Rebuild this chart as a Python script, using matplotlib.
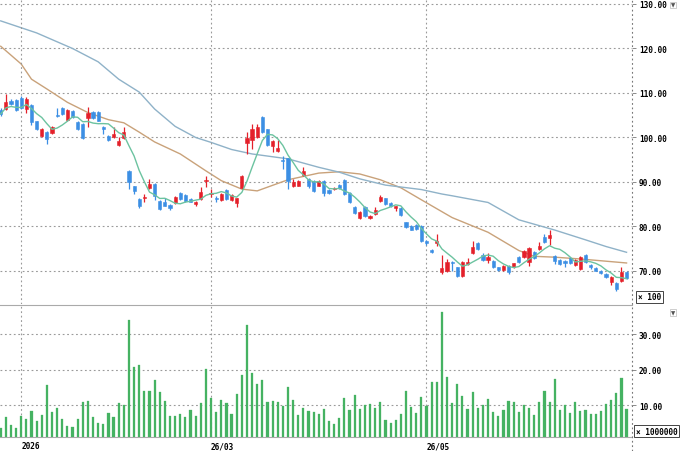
import numpy as np
import pandas as pd
import matplotlib
matplotlib.use("Agg")
import matplotlib.pyplot as plt
from matplotlib.lines import Line2D

# ---------------------------------------------------------------------------
# Data (price x100 yen, volume x1,000,000 shares), one entry per trading day
# ---------------------------------------------------------------------------
opens = [106.2, 106.4, 108.3, 108.4, 108.9, 106.4, 107.3, 103.6, 100.3, 101.3,
         101.0, 105.0, 106.6, 103.9, 106.0, 103.4, 103.0, 104.3, 105.7, 105.7,
         102.4, 100.4, 100.0, 98.2, 99.8, 92.5, 89.0, 86.2, 86.4, 88.6,
         89.6, 85.7, 85.4, 84.8, 85.3, 87.5, 87.1, 86.2, 85.1, 86.2,
         90.2, 87.3, 86.4, 86.0, 88.2, 86.0, 85.2, 88.6, 98.8, 99.5,
         100.0, 104.5, 101.8, 98.0, 97.0, 94.9, 95.3, 89.0, 89.2, 91.6,
         90.7, 90.3, 89.2, 90.3, 88.3, 88.5, 89.3, 90.5, 87.5, 84.3,
         81.8, 84.3, 81.8, 82.8, 85.8, 86.3, 85.3, 84.1, 84.1, 80.9,
         80.2, 80.3, 80.2, 76.8, 74.8, 76.4, 69.7, 70.1, 72.1, 70.8,
         68.9, 71.6, 74.0, 76.4, 73.6, 72.5, 72.2, 70.8, 70.3, 71.1,
         70.8, 73.1, 73.1, 72.0, 74.3, 74.9, 77.6, 77.5, 73.3, 72.5,
         72.3, 72.9, 71.3, 70.4, 73.7, 71.3, 70.6, 70.1, 69.3, 67.5,
         67.3, 67.8, 69.8]
highs = [106.6, 109.8, 108.6, 108.7, 109.3, 109.0, 107.5, 103.8, 102.2, 101.5,
         102.6, 106.6, 106.8, 106.4, 106.2, 103.6, 103.2, 106.8, 105.9, 105.9,
         102.5, 100.6, 102.3, 100.0, 102.3, 92.7, 89.2, 86.4, 87.3, 90.7,
         89.8, 85.9, 86.3, 85.0, 86.8, 87.7, 87.3, 86.4, 85.8, 88.8,
         91.4, 88.4, 86.8, 87.6, 88.4, 87.3, 86.5, 91.6, 101.2, 103.0,
         103.0, 104.9, 102.0, 99.4, 99.5, 95.9, 95.5, 90.7, 90.5, 93.3,
         90.9, 90.5, 90.5, 90.5, 88.5, 88.9, 89.6, 90.7, 87.7, 84.5,
         83.4, 84.5, 82.5, 84.3, 87.0, 86.5, 85.5, 84.6, 84.3, 81.1,
         80.4, 80.5, 80.4, 77.0, 75.0, 78.2, 73.5, 72.8, 72.2, 71.0,
         72.2, 73.0, 76.7, 76.6, 74.0, 74.1, 72.4, 71.0, 71.4, 71.3,
         71.9, 73.3, 74.8, 75.4, 74.5, 76.6, 78.2, 79.3, 73.5, 72.7,
         72.4, 73.1, 72.7, 73.4, 73.9, 71.5, 70.8, 70.3, 69.5, 68.9,
         67.5, 70.8, 70.0]
lows = [104.9, 106.2, 107.2, 105.9, 106.3, 105.6, 102.8, 101.6, 100.1, 98.5,
        100.8, 104.5, 105.1, 103.7, 104.3, 101.7, 99.6, 102.3, 104.2, 103.6,
        100.8, 99.3, 99.8, 98.0, 99.6, 88.4, 87.3, 84.2, 85.6, 88.4,
        86.0, 83.7, 84.5, 83.8, 85.1, 86.0, 85.6, 85.4, 84.6, 86.0,
        88.8, 86.6, 85.4, 85.8, 86.0, 85.8, 84.3, 88.4, 96.3, 97.5,
        99.8, 101.0, 98.1, 96.7, 96.8, 92.9, 88.4, 88.8, 89.0, 91.4,
        88.7, 87.8, 89.0, 86.9, 87.4, 88.3, 88.4, 87.1, 85.2, 82.9,
        81.6, 82.1, 81.6, 82.6, 85.6, 84.9, 84.3, 83.4, 82.3, 79.6,
        79.1, 79.2, 76.6, 75.9, 74.0, 75.6, 69.4, 69.7, 70.0, 68.7,
        68.7, 71.4, 73.8, 74.7, 72.3, 71.9, 70.6, 70.1, 70.1, 69.3,
        70.6, 71.8, 72.9, 71.2, 72.7, 74.7, 76.4, 75.8, 71.5, 71.4,
        70.9, 71.6, 71.1, 70.2, 71.9, 70.5, 69.9, 69.4, 68.4, 66.9,
        65.6, 67.6, 68.2]
closes = [105.3, 108.0, 107.6, 106.2, 106.6, 108.7, 103.4, 101.9, 101.9, 99.6,
          102.4, 104.8, 105.3, 106.2, 104.5, 101.9, 99.8, 105.6, 104.4, 103.8,
          102.0, 99.5, 100.8, 99.3, 101.2, 89.9, 88.0, 84.5, 86.7, 89.6,
          86.8, 83.9, 84.7, 84.1, 86.6, 86.2, 85.8, 85.6, 85.4, 87.7,
          90.5, 87.6, 86.1, 87.3, 86.2, 87.1, 86.3, 91.4, 99.8, 101.9,
          102.3, 101.2, 98.3, 99.2, 97.6, 94.8, 90.3, 90.1, 90.3, 92.5,
          89.2, 88.0, 90.3, 87.6, 87.6, 88.7, 88.6, 87.3, 85.4, 83.1,
          83.2, 82.3, 82.3, 83.6, 86.6, 85.1, 84.5, 84.5, 82.5, 79.8,
          79.3, 79.4, 76.8, 76.4, 74.2, 76.8, 70.6, 72.1, 71.8, 68.9,
          72.0, 72.1, 75.3, 74.9, 72.5, 73.1, 70.8, 70.3, 71.2, 69.8,
          71.7, 72.0, 74.6, 75.1, 72.9, 75.7, 76.6, 78.1, 72.3, 71.6,
          71.9, 71.8, 72.5, 73.1, 72.1, 70.8, 70.1, 69.6, 68.6, 68.6,
          66.0, 69.7, 68.4]
volumes = [3.4, 6.7, 4.5, 3.6, 7.0, 6.2, 8.3, 5.6, 7.2, 15.6,
           8.1, 9.2, 6.2, 4.2, 3.9, 6.0, 10.9, 11.2, 6.5, 5.0,
           4.6, 7.7, 6.7, 10.7, 10.0, 34.0, 20.7, 21.4, 13.9, 13.9,
           17.1, 13.6, 11.1, 7.0, 7.0, 7.6, 6.5, 8.5, 6.9, 10.5,
           20.1, 11.9, 8.1, 11.4, 10.5, 7.4, 13.2, 18.5, 32.6, 18.9,
           15.9, 17.0, 10.8, 11.0, 10.8, 9.8, 15.1, 11.5, 7.2, 9.2,
           8.2, 7.9, 7.6, 9.0, 5.4, 4.6, 6.3, 11.9, 8.6, 12.9,
           9.0, 10.0, 10.4, 9.2, 10.8, 5.9, 4.8, 5.9, 7.4, 13.9,
           9.4, 7.7, 12.3, 9.8, 16.6, 16.6, 36.1, 18.0, 10.5, 15.9,
           12.5, 9.0, 13.8, 9.2, 9.9, 11.7, 8.0, 7.0, 8.6, 11.1,
           10.8, 8.0, 10.0, 9.3, 7.2, 10.8, 13.9, 10.9, 17.2, 8.5,
           10.0, 7.7, 10.9, 8.4, 8.6, 7.4, 7.6, 8.2, 10.2, 11.3,
           13.4, 17.5, 9.0]

# moving averages (day index, value)
ma25_idx = [0, 4, 6, 9, 13, 17, 21, 24, 27, 30, 35, 40, 43, 47, 50, 56, 62,
            66, 70, 74, 78, 82, 88, 95, 101, 104, 108, 113, 117, 122]
ma25_val = [120.5, 116.5, 113.1, 110.9, 107.9, 105.6, 104.0, 103.3, 101.2,
            99.0, 96.3, 92.5, 90.3, 88.4, 88.0, 90.5, 92.0, 92.3, 91.8, 90.5,
            88.7, 86.0, 82.0, 78.7, 74.6, 73.3, 73.1, 72.7, 72.3, 71.8]
ma75_idx = [0, 7, 14, 19, 23, 27, 30, 34, 38, 41, 45, 49, 56, 62, 66, 70, 75,
            82, 86, 88, 95, 101, 108, 114, 118, 122]
ma75_val = [126.2, 123.5, 120.0, 117.0, 113.1, 110.2, 106.4, 102.5, 100.0,
            98.9, 97.3, 96.3, 95.2, 93.3, 92.2, 90.7, 89.3, 88.3, 87.3, 86.9,
            85.4, 81.5, 79.2, 77.0, 75.5, 74.2]

date_pos = [4, 41, 83]
date_labels = ["2026", "26/03", "26/05"]
price_ticks = [70, 80, 90, 100, 110, 120, 130]
vol_ticks = [10, 20, 30]

# ---------------------------------------------------------------------------
UP = "#e4202a"
DOWN = "#3c8fe4"
VOL = "#45b262"
GRID = "#9a9a9a"
DOT = (0, (1.6, 2.4))
LABEL_FONT = dict(family="DejaVu Sans Mono", weight="bold", size=5.6)

o = np.array(opens)
h = np.array(highs)
l = np.array(lows)
c = np.array(closes)
x = np.arange(len(c))
ma5 = pd.Series(c).rolling(5, min_periods=1).mean()

fig = plt.figure(figsize=(6.8, 4.52), dpi=100)
ax = fig.add_axes([0.0, 0.3252, 0.9294, 0.6748])
axv = fig.add_axes([0.0, 0.0303, 0.9294, 0.2927])

# --- price panel -------------------------------------------------------------
up = c >= o
colors = np.where(up, UP, DOWN)
ax.vlines(x, l, h, colors=colors, linewidth=0.9, zorder=3)
body_low = np.minimum(o, c)
body_h = np.maximum(np.abs(c - o), 0.2)
ax.bar(x, body_h, bottom=body_low, width=0.62, color=colors,
       edgecolor=colors, linewidth=0.4, zorder=4)

ax.plot(x, ma5, color="#6cc3a0", linewidth=1.0, zorder=5)
ax.plot(ma25_idx, ma25_val, color="#c9a27a", linewidth=1.0, zorder=2)
ax.plot(ma75_idx, ma75_val, color="#8fb2c8", linewidth=1.0, zorder=2)

ax.set_xlim(-0.14, 123.06)
ax.set_ylim(62.58, 131.12)
ax.set_yticks(price_ticks)
ax.set_yticklabels([f"{v:.2f}" for v in price_ticks], **LABEL_FONT)
ax.set_xticks([])
ax.yaxis.tick_right()
ax.tick_params(axis="y", length=3, width=0.6, color="#777", pad=2)
ax.grid(axis="y", linestyle=DOT, color=GRID, linewidth=0.8)
for p in date_pos:
    ax.axvline(p, linestyle=DOT, color=GRID, linewidth=0.8)
for s in ax.spines.values():
    s.set_visible(False)

# --- volume panel ------------------------------------------------------------
axv.bar(x, volumes, width=0.42, color=VOL, edgecolor=VOL, linewidth=0.2,
        zorder=3)
axv.set_xlim(-0.14, 123.06)
axv.set_ylim(0.9, 38.2)
axv.set_yticks(vol_ticks)
axv.set_yticklabels([f"{v:.2f}" for v in vol_ticks], **LABEL_FONT)
axv.yaxis.tick_right()
axv.tick_params(axis="y", length=3, width=0.6, color="#777", pad=2)
axv.set_xticks(date_pos)
axv.set_xticklabels(date_labels, ha="left", **LABEL_FONT)
axv.tick_params(axis="x", length=0, pad=3)
axv.grid(axis="y", linestyle=DOT, color=GRID, linewidth=0.8)
for p in date_pos:
    axv.axvline(p, linestyle=DOT, color=GRID, linewidth=0.8)
for s in axv.spines.values():
    s.set_visible(False)
axv.spines["top"].set_visible(True)
axv.spines["top"].set_color("#aaaaaa")
axv.spines["bottom"].set_visible(True)
axv.spines["bottom"].set_color("#aaaaaa")

# right-hand dotted axis line across the full height
fig.add_artist(Line2D([0.9294, 0.9294], [0.0, 1.0], transform=fig.transFigure,
                      linestyle=DOT, color="#777", linewidth=0.8))

box = dict(boxstyle="square,pad=0.2", fc="white", ec="#444", lw=0.7)
fig.text(0.938, 0.331, "× 100", ha="left", va="bottom", bbox=box, **LABEL_FONT)
fig.text(0.935, 0.034, "× 1000000", ha="left", va="bottom", bbox=box,
         **LABEL_FONT)
tri = dict(boxstyle="square,pad=0.1", fc="white", ec="#bbb", lw=0.5)
fig.text(0.993, 0.993, "▼", ha="right", va="top", fontsize=4, color="#555",
         bbox=tri)
fig.text(0.993, 0.312, "▼", ha="right", va="top", fontsize=4, color="#555",
         bbox=tri)

fig.savefig("out.png", dpi=100)
